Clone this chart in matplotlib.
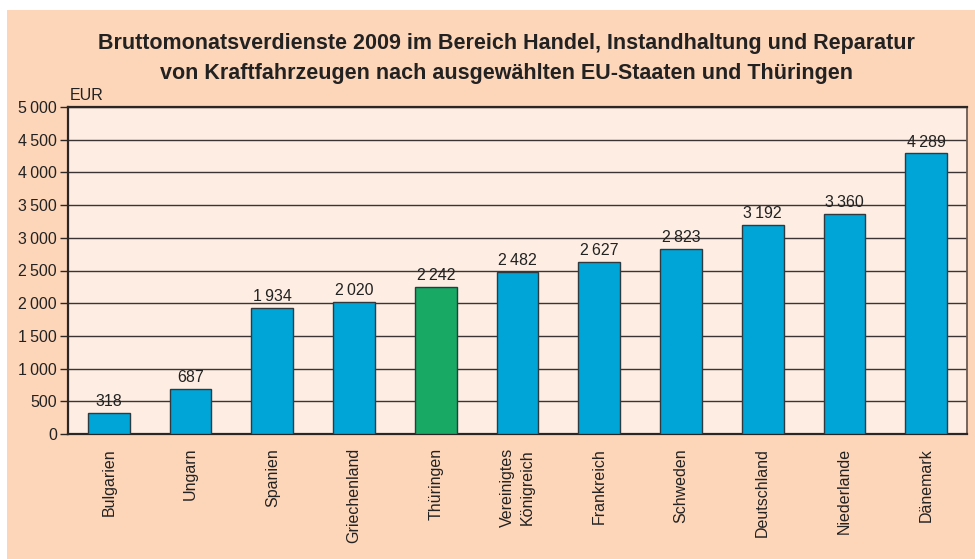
import matplotlib.pyplot as plt
from matplotlib.ticker import FuncFormatter

plt.rcParams['font.family'] = ['Liberation Sans', 'DejaVu Sans']

# Data
laender = ["Bulgarien", "Ungarn", "Spanien", "Griechenland", "Thüringen",
           "Vereinigtes\nKönigreich", "Frankreich", "Schweden", "Deutschland",
           "Niederlande", "Dänemark"]
verdienst = [318, 687, 1934, 2020, 2242, 2482, 2627, 2823, 3192, 3360, 4289]
y_ticks = [0, 500, 1000, 1500, 2000, 2500, 3000, 3500, 4000, 4500, 5000]

blue = "#00a5d8"
green = "#18a964"
outer_bg = "#fdd6ba"
inner_bg = "#fdede2"
dark = "#2b2523"


def fmt(v):
    s = str(int(v))
    if len(s) == 4:
        s = s[0] + "\u2009" + s[1:]
    return s


fig = plt.figure(figsize=(9.75, 5.59), dpi=100)
fig.patch.set_facecolor("white")
# peach panel (white strip at left and top)
fig.patches.append(plt.Rectangle((7 / 975, 0), 1 - 7 / 975, 1 - 10 / 559,
                                 transform=fig.transFigure, facecolor=outer_bg,
                                 edgecolor="none", zorder=-10))

ax = fig.add_axes([68 / 975, 1 - 434 / 559, (967 - 68) / 975, (434 - 107) / 559])
ax.set_facecolor(inner_bg)

colors = [green if l == "Thüringen" else blue for l in laender]
x = range(len(laender))
bars = ax.bar(x, verdienst, width=0.51, color=colors, edgecolor="#2e3a40",
              linewidth=1.0, zorder=3)

for xi, v in zip(x, verdienst):
    ax.text(xi, v + 60, fmt(v), ha="center", va="bottom", fontsize=11.5,
            color="#222222", zorder=4)

ax.set_xlim(-0.5, len(laender) - 0.5)
ax.set_ylim(0, 5000)
ax.set_yticks(y_ticks)
ax.yaxis.set_major_formatter(FuncFormatter(lambda v, p: fmt(v)))
ax.set_xticks(list(x))
ax.set_xticklabels(laender, rotation=90, fontsize=11.5, color="#222222",
                   linespacing=1.4)
ax.tick_params(axis="x", length=0, pad=10)
ax.tick_params(axis="y", length=6, width=1, color=dark, labelsize=11.5,
               labelcolor="#222222", pad=2)

ax.grid(axis="y", color="#3c3432", linewidth=1.0, zorder=0)
ax.set_axisbelow(True)
for side in ["left", "bottom", "top"]:
    ax.spines[side].set_color(dark)
    ax.spines[side].set_linewidth(1.6)
ax.spines["right"].set_color("#6b5a52")
ax.spines["right"].set_linewidth(1.3)

fig.text(70 / 975, 1 - 96 / 559, "EUR", fontsize=11.5, color="#222222",
         va="center", ha="left")

fig.text(506 / 975, 1 - 58.5 / 559,
         "Bruttomonatsverdienste 2009 im Bereich Handel, Instandhaltung und Reparatur\n"
         "von Kraftfahrzeugen nach ausgewählten EU-Staaten und Thüringen",
         ha="center", va="center", fontsize=15.5, fontweight="bold",
         color="#222222", linespacing=1.5)

fig.savefig("out.png", dpi=100, facecolor=fig.get_facecolor())
